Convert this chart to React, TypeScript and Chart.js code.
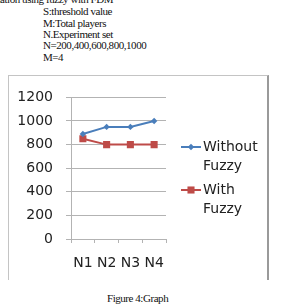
import React, { useEffect, useRef } from "react";
import { Chart, registerables } from "chart.js";

Chart.register(...registerables);

const categories = ["N1", "N2", "N3", "N4"];
const withoutFuzzy = [890, 950, 950, 1000];
const withFuzzy = [850, 800, 800, 800];
const seriesNames = [["Without", "Fuzzy"], ["With", "Fuzzy"]];
const yTicks = [0, 200, 400, 600, 800, 1000, 1200];
const textLines = ["S:threshold value", "M:Total players", "N.Experiment set", "N=200,400,600,800,1000", "M=4"];
const topLine = "uation using fuzzy with FDM";
const caption = "Figure 4:Graph";

const BLUE = "#4a7ebb";
const RED = "#be4b48";
const FONT = "DejaVu Sans";

const legendPlugin = {
  id: "customLegend",
  afterDraw(chart: any) {
    const ctx = chart.ctx;
    const items = [
      { color: BLUE, style: "rectRot", r: 3.2, y: 71, lines: seriesNames[0] },
      { color: RED, style: "rect", r: 5, y: 114, lines: seriesNames[1] },
    ];
    ctx.save();
    ctx.font = `14px "${FONT}"`;
    ctx.textBaseline = "middle";
    ctx.textAlign = "left";
    for (const it of items) {
      ctx.strokeStyle = it.color;
      ctx.lineWidth = 2;
      ctx.beginPath();
      ctx.moveTo(172, it.y);
      ctx.lineTo(192, it.y);
      ctx.stroke();
      ctx.fillStyle = it.color;
      const cx = 182;
      if (it.style === "rect") {
        const s = it.r * Math.SQRT1_2;
        ctx.fillRect(cx - s, it.y - s, 2 * s, 2 * s);
      } else {
        ctx.beginPath();
        ctx.moveTo(cx, it.y - it.r);
        ctx.lineTo(cx + it.r, it.y);
        ctx.lineTo(cx, it.y + it.r);
        ctx.lineTo(cx - it.r, it.y);
        ctx.closePath();
        ctx.fill();
      }
      ctx.fillStyle = "#222";
      it.lines.forEach((t: string, i: number) => {
        ctx.fillText(t, 194, it.y + i * 19);
      });
    }
    ctx.restore();
  },
};

function ChartBox() {
  const ref = useRef<HTMLCanvasElement | null>(null);
  useEffect(() => {
    if (!ref.current) return;
    const chart = new Chart(ref.current, {
      type: "line",
      data: {
        labels: categories,
        datasets: [
          {
            label: seriesNames[0].join(" "),
            data: withoutFuzzy,
            borderColor: BLUE,
            backgroundColor: BLUE,
            borderWidth: 2,
            pointStyle: "rectRot",
            pointRadius: 3.2,
            pointBorderWidth: 0,
            tension: 0,
          },
          {
            label: seriesNames[1].join(" "),
            data: withFuzzy,
            borderColor: RED,
            backgroundColor: RED,
            borderWidth: 2,
            pointStyle: "rect",
            pointRadius: 5,
            pointBorderWidth: 0,
            tension: 0,
          },
        ],
      },
      options: {
        responsive: false,
        animation: false,
        layout: { padding: { left: 0, right: 103, top: 13, bottom: 0 } },
        plugins: { legend: { display: false }, tooltip: { enabled: false } },
        scales: {
          x: {
            offset: true,
            grid: { display: true, offset: true, drawOnChartArea: false, drawTicks: true, tickLength: 4, color: "#b3b3b3" },
            border: { display: true, color: "#b3b3b3" },
            ticks: { color: "#222", font: { family: FONT, size: 14 }, padding: 12, maxRotation: 0 },
            afterFit(scale: any) { scale.height = 41; },
          },
          y: {
            min: 0,
            max: 1200,
            afterBuildTicks(scale: any) { scale.ticks = yTicks.map((v) => ({ value: v })); },
            grid: { color: "#b3b3b3", tickLength: 5, drawTicks: true },
            border: { display: true, color: "#b3b3b3" },
            ticks: {
              color: "#222",
              font: { family: FONT, size: 14 },
              padding: 13,
              callback: (v: any) => String(v),
            },
            afterFit(scale: any) { scale.width = 62; },
          },
        },
      },
      plugins: [legendPlugin],
    });
    return () => chart.destroy();
  }, []);
  return <canvas ref={ref} width={260} height={204} style={{ position: "absolute", left: 9, top: 76, width: 260, height: 204 }} />;
}

const serif: React.CSSProperties = {
  position: "absolute",
  fontFamily: '"Liberation Serif", serif',
  fontSize: 11,
  letterSpacing: "-0.45px",
  color: "#111",
  whiteSpace: "nowrap",
  lineHeight: "12px",
};

export default function App() {
  return (
    <div style={{ position: "absolute", left: 0, top: 0, width: 303, height: 306, background: "#fff", overflow: "hidden" }}>
      <span style={{ ...serif, right: 190, top: -7 }}>{topLine}</span>
      {textLines.map((t, i) => (
        <span key={i} style={{ ...serif, left: 43, top: [5, 17, 28, 39, 51][i] }}>{t}</span>
      ))}
      <div style={{ position: "absolute", left: 8, top: 75, width: 261, height: 205, borderLeft: "1px solid #c4c4c4", borderTop: "1px solid #c4c4c4", borderRight: "2px solid #9a9a9a", boxSizing: "border-box" }} />
      <ChartBox />
      <span style={{ ...serif, left: 107, top: 292 }}>{caption}</span>
    </div>
  );
}
